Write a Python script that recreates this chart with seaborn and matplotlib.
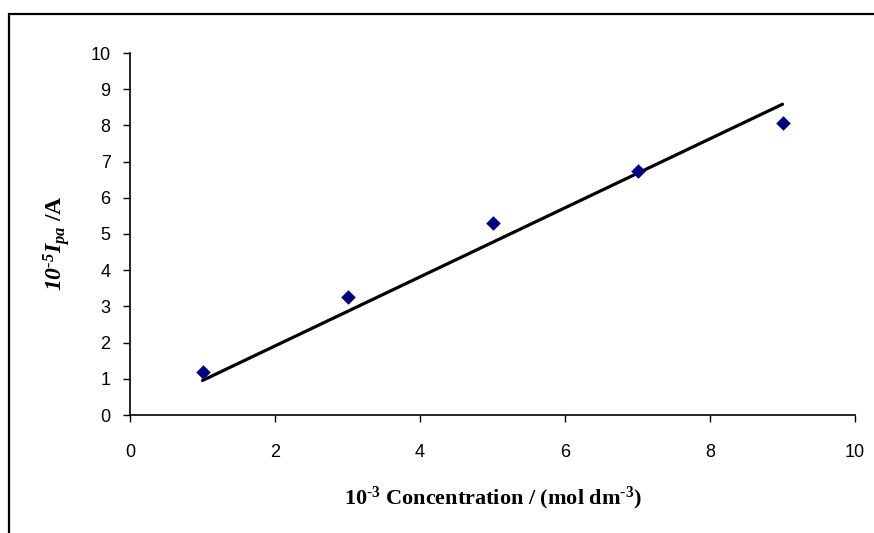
import numpy as np
import pandas as pd
import matplotlib
matplotlib.use("Agg")
from matplotlib import pyplot as plt
from matplotlib.patches import Rectangle
import seaborn as sns

# Data
concentration = [1, 3, 5, 7, 9]
current = [1.2, 3.27, 5.3, 6.75, 8.07]

x_ticks = [0, 2, 4, 6, 8, 10]
y_ticks = list(range(0, 11))

df = pd.DataFrame({"conc": concentration, "ipa": current})

# Trendline forced through the origin (Excel style)
x = np.array(concentration, dtype=float)
y = np.array(current, dtype=float)
slope = np.sum(x * y) / np.sum(x * x)
fit_df = pd.DataFrame({"conc": [x.min(), x.max()], "ipa": [slope * x.min(), slope * x.max()]})

sns.set_theme(style="white")
plt.rcParams["font.family"] = ["Liberation Sans", "DejaVu Sans"]
plt.rcParams["mathtext.fontset"] = "custom"
plt.rcParams["mathtext.rm"] = "Liberation Serif:italic:bold"
plt.rcParams["mathtext.it"] = "Liberation Serif:italic:bold"
plt.rcParams["mathtext.bf"] = "Liberation Serif:bold"

fig = plt.figure(figsize=(8.74, 5.33), dpi=100)
ax = fig.add_axes([130 / 874, 1 - 415 / 533, 725 / 874, (415 - 53) / 533])

# outer chart border (cut off at right / bottom as in the original)
fig.patches.append(Rectangle((9 / 874, -0.2), 1.2, 1.2 - 14 / 533, transform=fig.transFigure,
                             fill=False, edgecolor="black", linewidth=1.6))

sns.lineplot(data=fit_df, x="conc", y="ipa", ax=ax, color="black", linewidth=2.3)
sns.scatterplot(data=df, x="conc", y="ipa", ax=ax, marker="D", s=55, color="#000080",
                edgecolor="#000080", linewidth=0, zorder=3)

ax.set_xlim(0, 10)
ax.set_ylim(0, 10)
ax.set_xticks(x_ticks)
ax.set_yticks(y_ticks)
ax.tick_params(axis="both", direction="out", length=5, width=1, color="black",
               labelsize=13, labelcolor="black", bottom=True, left=True)
ax.tick_params(axis="x", pad=16)
ax.tick_params(axis="y", pad=9)
for side in ["top", "right"]:
    ax.spines[side].set_visible(False)
for side in ["left", "bottom"]:
    ax.spines[side].set_color("black")
    ax.spines[side].set_linewidth(1.2)
ax.grid(False)

ax.set_xlabel("$\\mathbf{10^{\u20103}}$ Concentration / (mol dm$\\mathbf{^{\u20103}}$)",
              family="Liberation Serif", fontweight="bold", fontsize=16, color="black", labelpad=17)
ax.set_ylabel("$10^{\u20105}I_{pa}$ /A",
              family="Liberation Serif", fontweight="bold", fontsize=17, color="black", labelpad=13)
ax.yaxis.label.set_y(0.475)

fig.savefig("out.png", dpi=100)
